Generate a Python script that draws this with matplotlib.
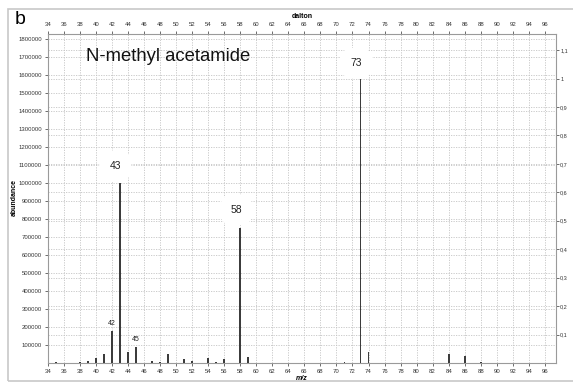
import matplotlib
matplotlib.use("Agg")
import matplotlib.pyplot as plt
from matplotlib.patches import Rectangle
import numpy as np

# m/z values and abundances of the spectrum peaks
mz = [35, 38, 39, 40, 41, 42, 43, 44, 45, 47, 48, 49, 51, 52, 54, 55, 56, 58, 59,
      71, 73, 74, 84, 86, 88]
abundance = [3000, 5000, 10000, 26000, 50000, 180000, 1000000, 63000, 87000, 10000, 5000,
             48000, 24000, 10000, 27000, 8000, 22000, 750000, 32000,
             3000, 1580000, 61000, 50000, 37000, 3000]

# peaks annotated with a large label (mz, label x, label y)
big_labels = [(43, 42.4, 1095000), (58, 57.5, 850000), (73, 72.5, 1665000)]
small_labels = [(42, 200000), (45, 111000)]

base_peak = 1580000
xticks = np.arange(34, 97, 2)
yticks = np.arange(100000, 1800001, 100000)
rticks = np.round(np.arange(0.1, 1.11, 0.1), 1)

plt.rcParams['font.family'] = ['Liberation Sans', 'DejaVu Sans']

fig = plt.figure(figsize=(5.73, 3.83), dpi=100)
ax = fig.add_axes([48 / 573, 1 - 363 / 383, 508 / 573, 329.5 / 383])

# light frame round the panel (left, top, bottom)
fig.patches.append(Rectangle((8 / 573, 2 / 383), 600 / 573, 372 / 383, transform=fig.transFigure,
                             fill=False, edgecolor='#c8c8c8', linewidth=1.2))

ax.bar(mz, abundance, width=0.22, color='#3c3c3c', zorder=3)

ax.set_xlim(34, 97.4)
ax.set_ylim(0, 1830000)
ax.set_xticks(xticks)
ax.set_yticks(yticks)
ax.set_yticklabels([str(v) for v in yticks])
ax.grid(True, color='#c4c4c4', linestyle=(0, (1.5, 1.5)), linewidth=0.6, zorder=0)
ax.tick_params(axis='both', labelsize=4.3, length=2.5, width=0.6, colors='#555555',
               labelcolor='#333333', pad=2)
ax.tick_params(axis='x', top=True, labeltop=True)
for s in ax.spines.values():
    s.set_color('#9a9a9a')
    s.set_linewidth(0.8)

# relative abundance on the right
ax2 = ax.twinx()
ax2.set_ylim(0, 1830000 / base_peak)
ax2.set_yticks(rticks)
ax2.set_yticklabels([str(v).replace('.', ',') if v != 1.0 else '1' for v in rticks])
ax2.grid(True, axis='y', color='#c4c4c4', linestyle=(0, (1.5, 1.5)), linewidth=0.6, zorder=0)
ax2.tick_params(axis='y', labelsize=4, length=2, width=0.6, colors='#555555',
                labelcolor='#333333', pad=1)
for s in ax2.spines.values():
    s.set_visible(False)
ax.set_zorder(ax2.get_zorder() + 1)
ax.patch.set_visible(False)

for m, lx, ly in big_labels:
    ax.text(lx, ly, str(m), fontsize=7.5, ha='center', va='center', color='#222222', zorder=4,
            bbox=dict(boxstyle='round,pad=1.0,rounding_size=1.3', fc='white', ec='none'))
for m, ly in small_labels:
    ax.text(m, ly, str(m), fontsize=5, ha='center', va='bottom', color='#222222', zorder=4)

ax.text(0.074, 0.93, 'N-methyl acetamide', transform=ax.transAxes, fontsize=13.3,
        ha='left', va='center', color='#111111')

fig.text(302 / 573, 1 - 17 / 383, 'dalton', fontsize=5, fontweight='bold', ha='center', va='center')
fig.text(302 / 573, 1 - 379 / 383, 'm/z', fontsize=5, fontweight='bold', style='italic',
         ha='center', va='center')
fig.text(14 / 573, 1 - 197 / 383, 'abundance', fontsize=5, fontweight='bold', rotation=90,
         ha='center', va='center')
fig.text(20 / 573, 1 - 20 / 383, 'b', fontsize=14, ha='center', va='center')

fig.savefig('out.png', dpi=100)
